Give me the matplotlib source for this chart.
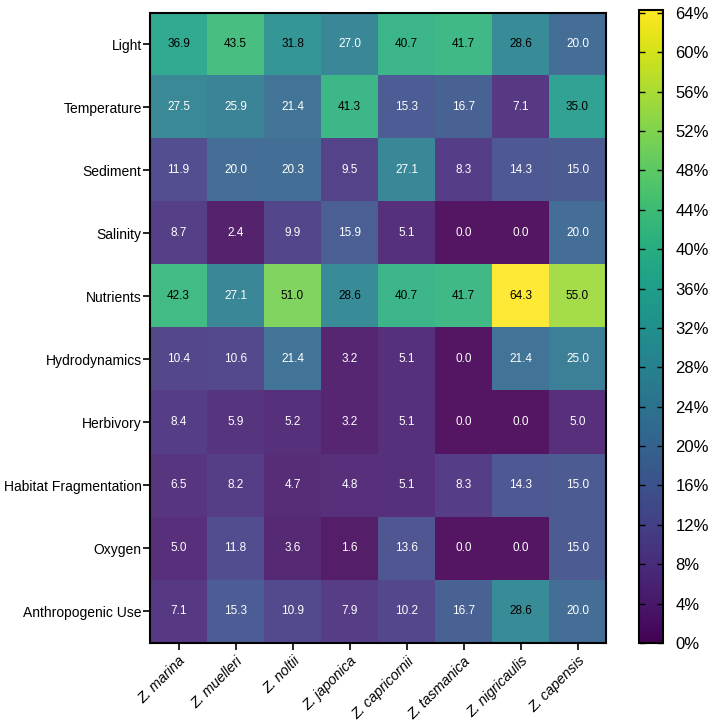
import numpy as np
import matplotlib
matplotlib.use('Agg')
import matplotlib.pyplot as plt
from matplotlib.ticker import FuncFormatter

plt.rcParams['font.family'] = ['Liberation Sans', 'DejaVu Sans']

# fatores (linhas) e especies (colunas)
fatores = ['Light', 'Temperature', 'Sediment', 'Salinity', 'Nutrients',
           'Hydrodynamics', 'Herbivory', 'Habitat Fragmentation', 'Oxygen',
           'Anthropogenic Use']
especies = ['Z. marina', 'Z. muelleri', 'Z. noltii', 'Z. japonica',
            'Z. capricornii', 'Z. tasmanica', 'Z. nigricaulis', 'Z. capensis']

light = [36.9, 43.5, 31.8, 27.0, 40.7, 41.7, 28.6, 20.0]
temperature = [27.5, 25.9, 21.4, 41.3, 15.3, 16.7, 7.1, 35.0]
sediment = [11.9, 20.0, 20.3, 9.5, 27.1, 8.3, 14.3, 15.0]
salinity = [8.7, 2.4, 9.9, 15.9, 5.1, 0.0, 0.0, 20.0]
nutrients = [42.3, 27.1, 51.0, 28.6, 40.7, 41.7, 64.3, 55.0]
hydrodynamics = [10.4, 10.6, 21.4, 3.2, 5.1, 0.0, 21.4, 25.0]
herbivory = [8.4, 5.9, 5.2, 3.2, 5.1, 0.0, 0.0, 5.0]
fragmentation = [6.5, 8.2, 4.7, 4.8, 5.1, 8.3, 14.3, 15.0]
oxygen = [5.0, 11.8, 3.6, 1.6, 13.6, 0.0, 0.0, 15.0]
anthropogenic = [7.1, 15.3, 10.9, 7.9, 10.2, 16.7, 28.6, 20.0]

dados = np.array([light, temperature, sediment, salinity, nutrients,
                  hydrodynamics, herbivory, fragmentation, oxygen, anthropogenic])

W, H = 711, 721
fig = plt.figure(figsize=(W/100, H/100), dpi=100)
ax = fig.add_axes([150/W, 1 - 643/H, 456/W, 630.5/H])
cax = fig.add_axes([639/W, 1 - 643/H, 24/W, 633/H])

vmax = dados.max()
im = ax.imshow(dados, cmap='viridis', vmin=0, vmax=vmax, aspect='auto', alpha=0.92)

for i in range(dados.shape[0]):
    for j in range(dados.shape[1]):
        v = dados[i, j]
        cor = 'black' if v >= 28 else 'white'
        ax.text(j, i, '{0:.1f}'.format(v), ha='center', va='center',
                fontsize=8.5, color=cor)

ax.set_xticks(range(len(especies)))
ax.set_xticklabels(especies, rotation=45, ha='right', rotation_mode='anchor',
                   fontsize=10.3, style='italic')
ax.set_yticks(range(len(fatores)))
ax.set_yticklabels(fatores, fontsize=10)
ax.tick_params(length=5, width=1.2, color='black', pad=1)
ax.tick_params(axis='x', pad=3)
for s in ax.spines.values():
    s.set_linewidth(1.5)

cb = fig.colorbar(im, cax=cax)
cb.solids.set_alpha(1)
cb.set_ticks(np.arange(0, 65, 4))
cb.ax.yaxis.set_major_formatter(FuncFormatter(lambda x, p: '%d%%' % x))
cb.ax.tick_params(labelsize=12, direction='in', left=True, right=True,
                  length=4, width=1, pad=9)
cb.outline.set_linewidth(1.5)

plt.savefig('out.png', dpi=100)
